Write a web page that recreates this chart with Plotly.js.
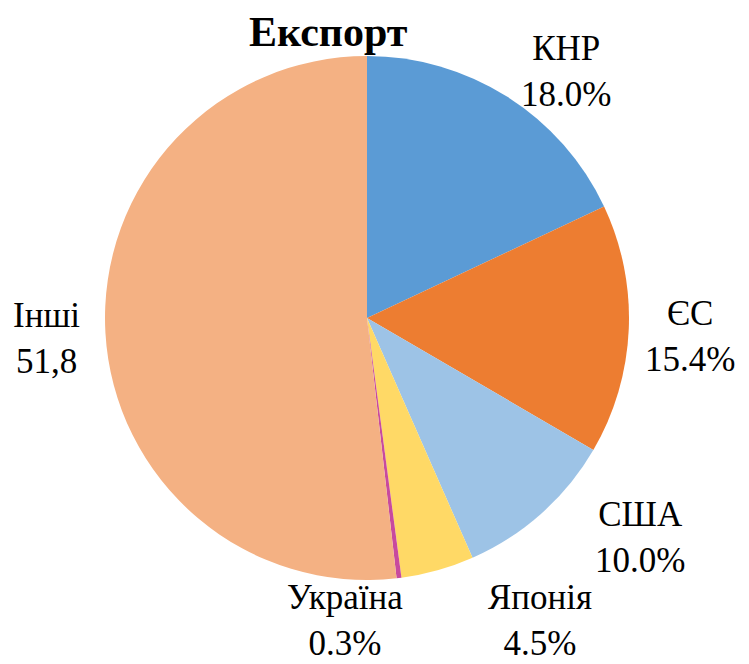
<!DOCTYPE html>
<html>
<head>
<meta charset="utf-8">
<script src="https://cdn.plot.ly/plotly-3.0.1.min.js"></script>
<style>html,body{margin:0;padding:0;background:#fff;}#chart{width:749px;height:664px;}</style>
</head>
<body>
<div id="chart"></div>
<script>
const categories = ["КНР", "ЄС", "США", "Японія", "Україна", "Інші"];
const values = [18.0, 15.4, 10.0, 4.5, 0.3, 51.8];
const valueLabels = ["18.0%", "15.4%", "10.0%", "4.5%", "0.3%", "51,8"];
const colors = ["#5B9BD5", "#ED7D31", "#9DC3E6", "#FFD966", "#C84A9E", "#F4B183"];

// label anchor positions in pixels (layout only)
const labelPos = [[566, 71], [690, 336], [640, 537], [540, 620], [345, 620], [46, 338]];
const W = 749, H = 664;
const font = "Liberation Serif";

const annotations = categories.map((c, i) => ({
  text: c + "<br>" + valueLabels[i],
  x: labelPos[i][0] / W, y: 1 - labelPos[i][1] / H,
  xref: "paper", yref: "paper", xanchor: "center", yanchor: "middle",
  showarrow: false, font: {family: font, size: 35, color: "#000"}
}));
annotations.push({
  text: "<b>Експорт</b>", x: 328 / W, y: 1 - 32 / H,
  xref: "paper", yref: "paper", xanchor: "center", yanchor: "middle",
  showarrow: false, font: {family: font, size: 42, color: "#000"}
});

const cx = 367, cy = 318, r = 262;
const data = [{
  type: "pie",
  labels: categories,
  values: values,
  marker: {colors: colors, line: {width: 0}},
  sort: false,
  direction: "clockwise",
  rotation: 0,
  textinfo: "none",
  hoverinfo: "label+percent",
  showlegend: false,
  domain: {x: [(cx - r) / W, (cx + r) / W], y: [1 - (cy + r) / H, 1 - (cy - r) / H]}
}];

const layout = {
  width: W, height: H,
  margin: {l: 0, r: 0, t: 0, b: 0},
  paper_bgcolor: "#fff",
  showlegend: false,
  annotations: annotations
};
Plotly.newPlot("chart", data, layout, {displayModeBar: false});
</script>
</body>
</html>
